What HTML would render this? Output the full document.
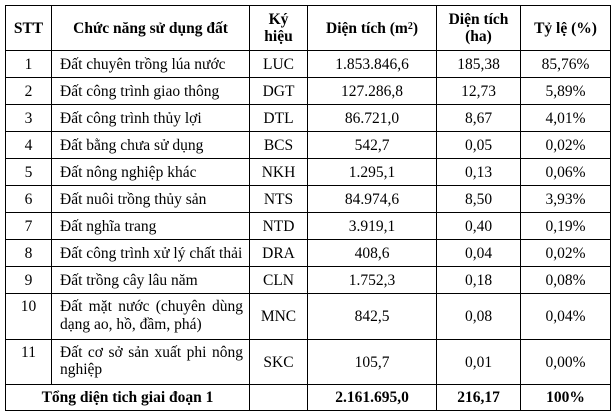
<!DOCTYPE html>
<html>
<head>
<meta charset="utf-8">
<style>
  html, body { margin:0; padding:0; background:#fff; }
  body { width:615px; height:415px; position:relative; overflow:hidden;
         font-family:"Liberation Serif", "Noto Serif CJK SC", serif; font-size:15.5px; color:#000; }
  .h { position:absolute; height:1px; background:#000; }
  .v { position:absolute; width:1px; background:#000; }
  .c { position:absolute; display:flex; align-items:center; justify-content:center; text-align:center; line-height:17px; white-space:nowrap; }
  .l { justify-content:flex-start; padding-left:8px; box-sizing:border-box; }
  .b { font-weight:bold; }
  .t { position:absolute; line-height:18px; white-space:nowrap; }
  .j { text-align:justify; text-align-last:justify; white-space:normal; }
  sup { font-size:10px; line-height:0; position:relative; top:-1px; vertical-align:super; }
</style>
</head>
<body>
<!-- horizontal lines -->
<div class="h" style="left:5px;width:606px;top:5px"></div>
<div class="h" style="left:5px;width:606px;top:50px"></div>
<div class="h" style="left:5px;width:606px;top:77px"></div>
<div class="h" style="left:5px;width:606px;top:104px"></div>
<div class="h" style="left:5px;width:606px;top:131px"></div>
<div class="h" style="left:5px;width:606px;top:158px"></div>
<div class="h" style="left:5px;width:606px;top:185px"></div>
<div class="h" style="left:5px;width:606px;top:212px"></div>
<div class="h" style="left:5px;width:606px;top:239px"></div>
<div class="h" style="left:5px;width:606px;top:266px"></div>
<div class="h" style="left:5px;width:606px;top:293px"></div>
<div class="h" style="left:5px;width:606px;top:339px"></div>
<div class="h" style="left:5px;width:606px;top:384px"></div>
<div class="h" style="left:5px;width:606px;top:410px"></div>
<!-- vertical lines -->
<div class="v" style="left:5px;top:5px;height:406px"></div>
<div class="v" style="left:51px;top:5px;height:380px"></div>
<div class="v" style="left:249px;top:5px;height:406px"></div>
<div class="v" style="left:307px;top:5px;height:406px"></div>
<div class="v" style="left:436px;top:5px;height:406px"></div>
<div class="v" style="left:520px;top:5px;height:406px"></div>
<div class="v" style="left:610px;top:5px;height:406px"></div>

<!-- header -->
<div class="c b" style="left:6px;width:45px;top:6px;height:44px">STT</div>
<div class="c b" style="left:52px;width:197px;top:6px;height:44px">Chức năng sử dụng đất</div>
<div class="c b" style="left:250px;width:57px;top:6px;height:44px">Ký<br>hiệu</div>
<div class="c b" style="left:308px;width:128px;top:6px;height:44px">Diện tích (m<sup>2</sup>)</div>
<div class="c b" style="left:437px;width:83px;top:6px;height:44px">Diện tích<br>(ha)</div>
<div class="c b" style="left:521px;width:89px;top:6px;height:44px">Tỷ lệ (%)</div>

<!-- row 1 -->
<div class="c" style="left:6px;width:45px;top:51px;height:26px">1</div>
<div class="c l" style="left:52px;width:197px;top:51px;height:26px">Đất chuyên trồng lúa nước</div>
<div class="c" style="left:250px;width:57px;top:51px;height:26px">LUC</div>
<div class="c" style="left:308px;width:128px;top:51px;height:26px">1.853.846,6</div>
<div class="c" style="left:437px;width:83px;top:51px;height:26px">185,38</div>
<div class="c" style="left:521px;width:89px;top:51px;height:26px">85,76%</div>
<!-- row 2 -->
<div class="c" style="left:6px;width:45px;top:78px;height:26px">2</div>
<div class="c l" style="left:52px;width:197px;top:78px;height:26px">Đất công trình giao thông</div>
<div class="c" style="left:250px;width:57px;top:78px;height:26px">DGT</div>
<div class="c" style="left:308px;width:128px;top:78px;height:26px">127.286,8</div>
<div class="c" style="left:437px;width:83px;top:78px;height:26px">12,73</div>
<div class="c" style="left:521px;width:89px;top:78px;height:26px">5,89%</div>
<!-- row 3 -->
<div class="c" style="left:6px;width:45px;top:105px;height:26px">3</div>
<div class="c l" style="left:52px;width:197px;top:105px;height:26px">Đất công trình thủy lợi</div>
<div class="c" style="left:250px;width:57px;top:105px;height:26px">DTL</div>
<div class="c" style="left:308px;width:128px;top:105px;height:26px">86.721,0</div>
<div class="c" style="left:437px;width:83px;top:105px;height:26px">8,67</div>
<div class="c" style="left:521px;width:89px;top:105px;height:26px">4,01%</div>
<!-- row 4 -->
<div class="c" style="left:6px;width:45px;top:132px;height:26px">4</div>
<div class="c l" style="left:52px;width:197px;top:132px;height:26px">Đất bằng chưa sử dụng</div>
<div class="c" style="left:250px;width:57px;top:132px;height:26px">BCS</div>
<div class="c" style="left:308px;width:128px;top:132px;height:26px">542,7</div>
<div class="c" style="left:437px;width:83px;top:132px;height:26px">0,05</div>
<div class="c" style="left:521px;width:89px;top:132px;height:26px">0,02%</div>
<!-- row 5 -->
<div class="c" style="left:6px;width:45px;top:159px;height:26px">5</div>
<div class="c l" style="left:52px;width:197px;top:159px;height:26px">Đất nông nghiệp khác</div>
<div class="c" style="left:250px;width:57px;top:159px;height:26px">NKH</div>
<div class="c" style="left:308px;width:128px;top:159px;height:26px">1.295,1</div>
<div class="c" style="left:437px;width:83px;top:159px;height:26px">0,13</div>
<div class="c" style="left:521px;width:89px;top:159px;height:26px">0,06%</div>
<!-- row 6 -->
<div class="c" style="left:6px;width:45px;top:186px;height:26px">6</div>
<div class="c l" style="left:52px;width:197px;top:186px;height:26px">Đất nuôi trồng thủy sản</div>
<div class="c" style="left:250px;width:57px;top:186px;height:26px">NTS</div>
<div class="c" style="left:308px;width:128px;top:186px;height:26px">84.974,6</div>
<div class="c" style="left:437px;width:83px;top:186px;height:26px">8,50</div>
<div class="c" style="left:521px;width:89px;top:186px;height:26px">3,93%</div>
<!-- row 7 -->
<div class="c" style="left:6px;width:45px;top:213px;height:26px">7</div>
<div class="c l" style="left:52px;width:197px;top:213px;height:26px">Đất nghĩa trang</div>
<div class="c" style="left:250px;width:57px;top:213px;height:26px">NTD</div>
<div class="c" style="left:308px;width:128px;top:213px;height:26px">3.919,1</div>
<div class="c" style="left:437px;width:83px;top:213px;height:26px">0,40</div>
<div class="c" style="left:521px;width:89px;top:213px;height:26px">0,19%</div>
<!-- row 8 -->
<div class="c" style="left:6px;width:45px;top:240px;height:26px">8</div>
<div class="c l" style="left:52px;width:197px;top:240px;height:26px">Đất công trình xử lý chất thải</div>
<div class="c" style="left:250px;width:57px;top:240px;height:26px">DRA</div>
<div class="c" style="left:308px;width:128px;top:240px;height:26px">408,6</div>
<div class="c" style="left:437px;width:83px;top:240px;height:26px">0,04</div>
<div class="c" style="left:521px;width:89px;top:240px;height:26px">0,02%</div>
<!-- row 9 -->
<div class="c" style="left:6px;width:45px;top:267px;height:26px">9</div>
<div class="c l" style="left:52px;width:197px;top:267px;height:26px">Đất trồng cây lâu năm</div>
<div class="c" style="left:250px;width:57px;top:267px;height:26px">CLN</div>
<div class="c" style="left:308px;width:128px;top:267px;height:26px">1.752,3</div>
<div class="c" style="left:437px;width:83px;top:267px;height:26px">0,18</div>
<div class="c" style="left:521px;width:89px;top:267px;height:26px">0,08%</div>
<!-- row 10 -->
<div class="t" style="left:6px;width:45px;top:298px;text-align:center">10</div>
<div class="t j" style="left:60px;width:183px;top:298px">Đất mặt nước (chuyên dùng</div>
<div class="t" style="left:60px;top:316px">dạng ao, hồ, đầm, phá)</div>
<div class="c" style="left:250px;width:57px;top:294px;height:45px">MNC</div>
<div class="c" style="left:308px;width:128px;top:294px;height:45px">842,5</div>
<div class="c" style="left:437px;width:83px;top:294px;height:45px">0,08</div>
<div class="c" style="left:521px;width:89px;top:294px;height:45px">0,04%</div>
<!-- row 11 -->
<div class="t" style="left:6px;width:45px;top:344px;text-align:center">11</div>
<div class="t j" style="left:60px;width:183px;top:344px">Đất cơ sở sản xuất phi nông</div>
<div class="t" style="left:60px;top:361px">nghiệp</div>
<div class="c" style="left:250px;width:57px;top:340px;height:44px">SKC</div>
<div class="c" style="left:308px;width:128px;top:340px;height:44px">105,7</div>
<div class="c" style="left:437px;width:83px;top:340px;height:44px">0,01</div>
<div class="c" style="left:521px;width:89px;top:340px;height:44px">0,00%</div>
<!-- total -->
<div class="c b" style="left:6px;width:243px;top:385px;height:25px">Tổng diện tich giai đoạn 1</div>
<div class="c b" style="left:308px;width:128px;top:385px;height:25px">2.161.695,0</div>
<div class="c b" style="left:437px;width:83px;top:385px;height:25px">216,17</div>
<div class="c b" style="left:521px;width:89px;top:385px;height:25px">100%</div>
</body>
</html>
